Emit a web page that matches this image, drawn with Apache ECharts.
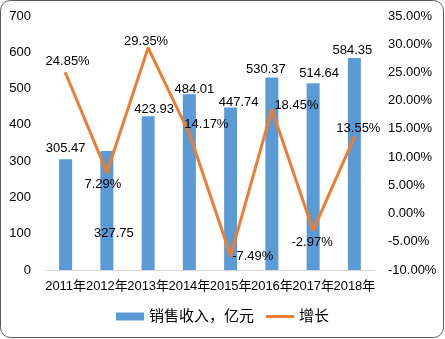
<!DOCTYPE html>
<html><head><meta charset="utf-8">
<script src="https://cdn.jsdelivr.net/npm/echarts@6/dist/echarts.min.js"></script>
<style>html,body{margin:0;padding:0;background:#fff}#c{width:445px;height:339px}</style>
</head><body><div id="c"></div>
<script>
var categories = ['2011年','2012年','2013年','2014年','2015年','2016年','2017年','2018年'];
var salesRevenue = [305.47, 327.75, 423.93, 484.01, 447.74, 530.37, 514.64, 584.35];
var growthPct = [24.85, 7.29, 29.35, 14.17, -7.49, 18.45, -2.97, 13.55];
var leftTicks = {min: 0, max: 700, interval: 100};
var rightTicks = {min: -10, max: 35, interval: 5};
var seriesNames = ['销售收入，亿元', '增长'];

var FONT = '"Liberation Sans","Noto Sans CJK SC",sans-serif';
// label placement (styling only)
var barLabelCfg = [
  {position:'top', offset:[0,-2]},
  {position:'insideBottom', offset:[7,-28]},
  {position:'top', offset:[6,2]},
  {position:'top', offset:[5,4]},
  {position:'top', offset:[8,3]},
  {position:'top', offset:[-6,0]},
  {position:'top', offset:[6,-1]},
  {position:'top', offset:[-2,1]}
];
var lineLabelCfg = [
  {position:'top', distance:5, offset:[2,1]},
  {position:'bottom', distance:3, offset:[-4,1]},
  {position:'top', distance:0, offset:[-2,2]},
  {position:'top', distance:3, offset:[17,2]},
  {position:'right', distance:0, offset:[0,1]},
  {position:'right', distance:0, offset:[1,-4]},
  {position:'bottom', distance:4, offset:[-1,0]},
  {position:'top', distance:2, offset:[4,1]}
];

var chart = echarts.init(document.getElementById('c'), null, {renderer:'canvas'});
chart.setOption({
  animation: false,
  textStyle: {fontFamily: FONT},
  graphic: [{type:'rect', shape:{x:0.5,y:0.5,width:443,height:337,r:10}, style:{fill:'none', stroke:'#595959', lineWidth:1}, z:100}],
  grid: {left:45, right:70, top:16, bottom:69},
  legend: {
    bottom: 10, left: 'center', itemGap: 12,
    itemWidth: 28, itemHeight: 8, symbolKeepAspect: true,
    textStyle: {fontSize: 15, color:'#000', fontFamily: FONT},
    data: [{name: seriesNames[0], icon:'rect'},
           {name: seriesNames[1], icon:'path://M0,0H28V3H0Z', itemStyle:{color:'#ED7D31'}}]
  },
  xAxis: {
    type:'category', data: categories,
    axisLine:{lineStyle:{color:'#D9D9D9'}}, axisTick:{show:false},
    axisLabel:{interval:0, color:'#000', fontSize:13, margin:10, fontFamily: FONT}
  },
  yAxis: [
    {type:'value', min:leftTicks.min, max:leftTicks.max, interval:leftTicks.interval,
     splitLine:{show:false}, axisLine:{show:false}, axisTick:{show:false},
     axisLabel:{color:'#000', fontSize:13, margin:14, fontFamily: FONT}},
    {type:'value', min:rightTicks.min, max:rightTicks.max, interval:rightTicks.interval,
     splitLine:{show:false}, axisLine:{show:false}, axisTick:{show:false},
     axisLabel:{color:'#000', fontSize:13, margin:13, fontFamily: FONT,
       formatter: function(v){ return v.toFixed(2) + '%'; }}}
  ],
  series: [
    {name: seriesNames[0], type:'bar', barWidth:13, yAxisIndex:0,
     itemStyle:{color:'#5B9BD5'},
     data: salesRevenue.map(function(v,i){
       return {value:v, label:{show:true, position:barLabelCfg[i].position, offset:barLabelCfg[i].offset, distance:2}};
     }),
     label:{show:true, color:'#000', fontSize:13, fontFamily: FONT, formatter: function(p){return p.value.toFixed(2);}}
    },
    {name: seriesNames[1], type:'line', yAxisIndex:1, symbol:'circle', symbolSize:3, showSymbol:true, z:5,
     lineStyle:{color:'#ED7D31', width:3}, itemStyle:{color:'#ED7D31'},
     data: growthPct.map(function(v,i){
       return {value:v, label:{show:true, position:lineLabelCfg[i].position, distance:lineLabelCfg[i].distance, offset:lineLabelCfg[i].offset}};
     }),
     label:{show:true, color:'#000', fontSize:13, fontFamily: FONT, formatter: function(p){return p.value.toFixed(2)+'%';}}
    }
  ]
});
</script></body></html>
